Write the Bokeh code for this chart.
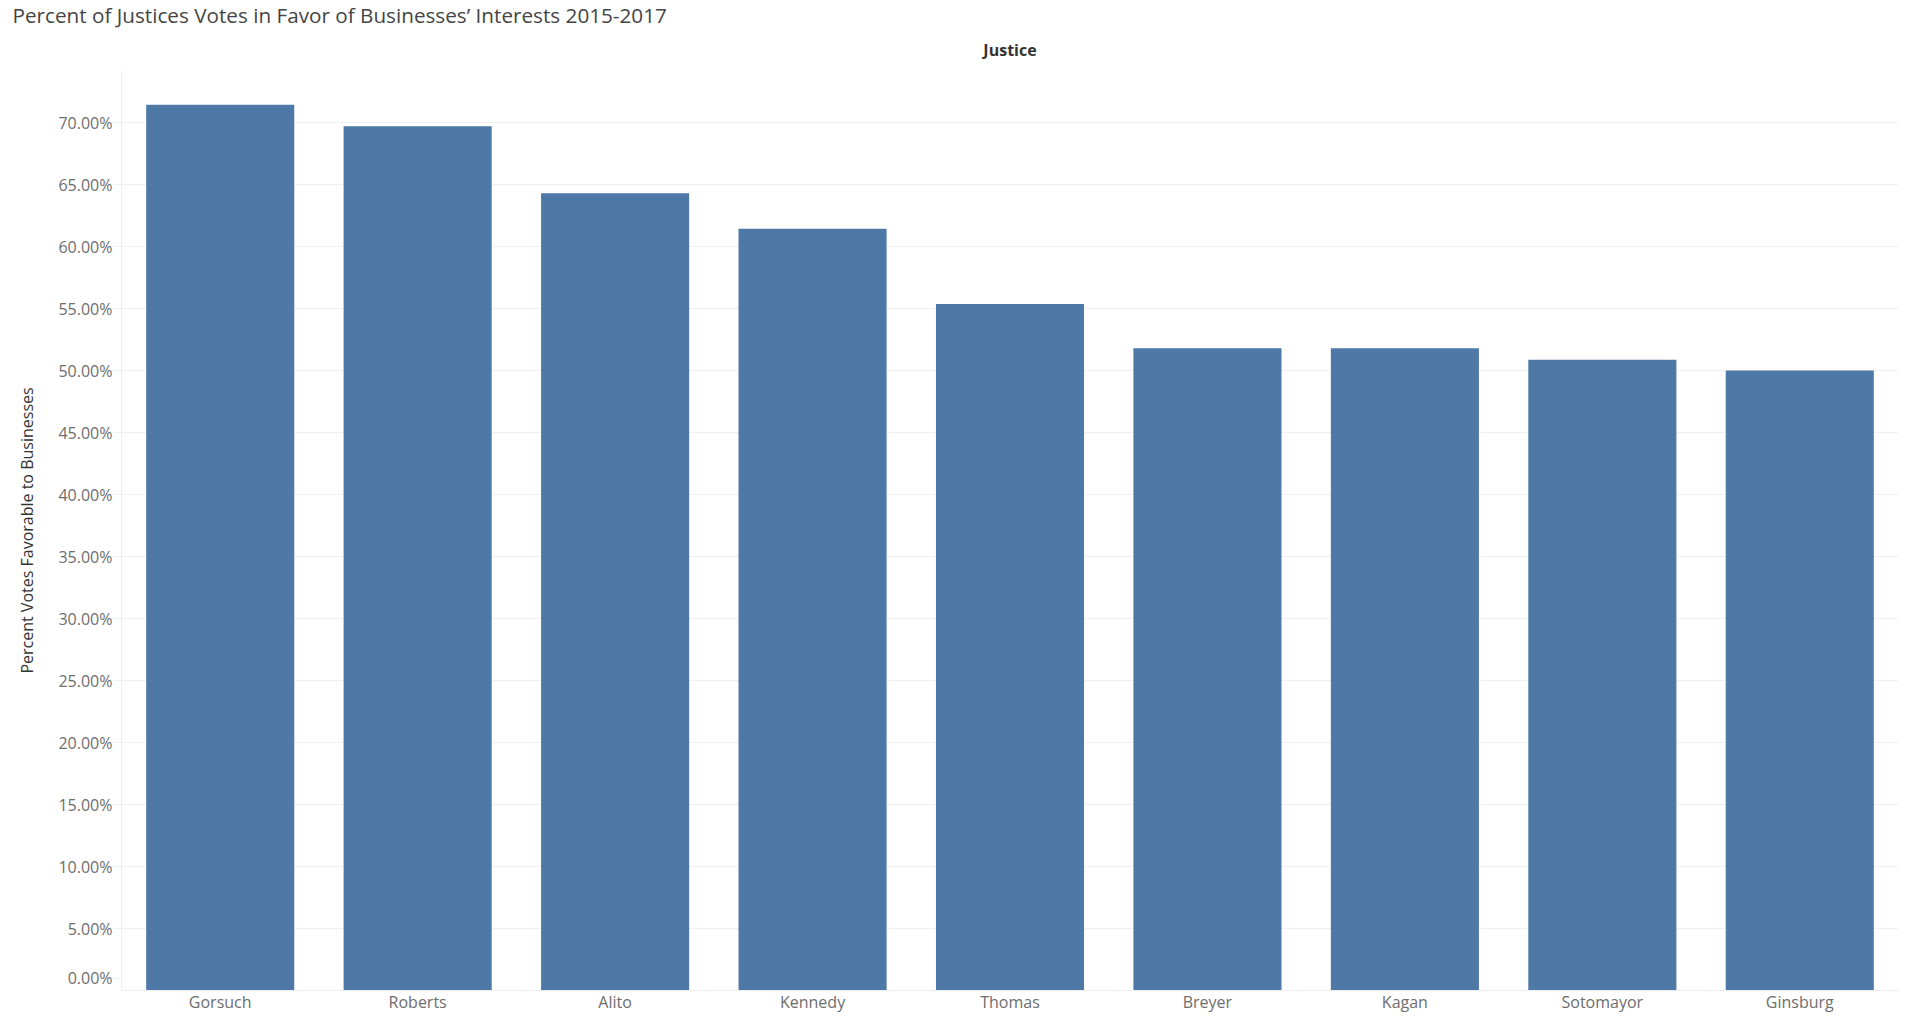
from bokeh.plotting import figure
from bokeh.models import (FactorRange, Range1d, FixedTicker, CustomJSTickFormatter, Title,
                          ColumnDataSource)
from bokeh.embed import file_html
from bokeh.resources import INLINE

justices = ["Gorsuch", "Roberts", "Alito", "Kennedy", "Thomas", "Breyer", "Kagan", "Sotomayor", "Ginsburg"]
pct_favorable = [0.7143, 0.6970, 0.6429, 0.6143, 0.5536, 0.5179, 0.5179, 0.5088, 0.5000]
y_ticks = [0.0, 0.05, 0.10, 0.15, 0.20, 0.25, 0.30, 0.35, 0.40, 0.45, 0.50, 0.55, 0.60, 0.65, 0.70]

FONT = "Open Sans"
TICK_COLOR = "#6e6e6e"
ZERO_LABEL_LIFT = 0.0097   # the bottom "0.00%" label sits a little above the baseline

src = ColumnDataSource(dict(justice=justices, pct=pct_favorable))

p = figure(
    width=1899, height=1015,
    x_range=FactorRange(factors=justices, range_padding=0),
    y_range=Range1d(0, 0.742),
    output_backend="svg", toolbar_location=None,
    min_border_left=121, min_border_right=1, min_border_bottom=0, min_border_top=0,
    title=None,
)
p.outline_line_color = None
p.background_fill_color = "white"

main_title = Title(text="Percent of Justices Votes in Favor of Businesses\u2019 Interests 2015-2017",
                   align="left", offset=-109, text_font=FONT, text_font_size="20.7px",
                   text_font_style="normal", text_color="#454545", standoff=-3)
header = Title(text="Justice", align="center", text_font=FONT, text_font_size="16px",
               text_font_style="bold", text_color="#333333", standoff=19)
p.add_layout(header, "above")
p.add_layout(main_title, "above")

p.vbar(x="justice", top="pct", width=0.75, bottom=0, source=src,
       fill_color="#4e79a7", line_color=None)

p.xgrid.grid_line_color = None
p.ygrid.grid_line_color = "#f0f0f0"
p.ygrid.ticker = FixedTicker(ticks=y_ticks)

axis_ticks = [t if t > 0 else t + ZERO_LABEL_LIFT for t in y_ticks]
p.yaxis.ticker = FixedTicker(ticks=axis_ticks)
p.yaxis.formatter = CustomJSTickFormatter(
    code="return (Math.round(tick * 20) / 20 * 100).toFixed(2) + '%';")
p.yaxis.axis_line_color = "#eeeeee"
p.yaxis.major_tick_line_color = "#f0f0f0"
p.yaxis.major_tick_out = 8
p.yaxis.major_tick_in = 0
p.yaxis.minor_tick_line_color = None
p.yaxis.major_label_standoff = 1
p.yaxis.major_label_text_font = FONT
p.yaxis.major_label_text_font_size = "16px"
p.yaxis.major_label_text_color = TICK_COLOR
p.yaxis.axis_label = "Percent Votes Favorable to Businesses"
p.yaxis.axis_label_text_font = FONT
p.yaxis.axis_label_text_font_size = "16px"
p.yaxis.axis_label_text_font_style = "normal"
p.yaxis.axis_label_text_color = "#333333"
p.yaxis.axis_label_standoff = 17

p.xaxis.axis_label = None
p.xaxis.axis_line_color = "#eeeeee"
p.xaxis.major_tick_line_color = None
p.xaxis.major_tick_out = 0
p.xaxis.major_tick_in = 0
p.xaxis.minor_tick_line_color = None
p.xaxis.major_label_standoff = 0
p.xaxis.major_label_text_font = FONT
p.xaxis.major_label_text_font_size = "16px"
p.xaxis.major_label_text_color = TICK_COLOR

open("out.html", "w").write(file_html(p, INLINE))
